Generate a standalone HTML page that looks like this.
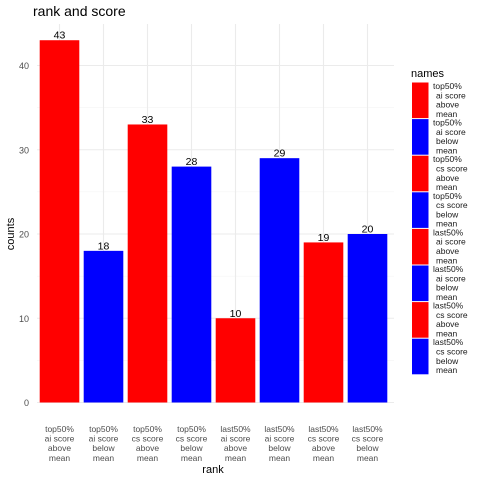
<!DOCTYPE html>
<html><head><meta charset="utf-8"><style>
body{margin:0;background:#fff;font-family:"Liberation Sans",sans-serif}
</style></head><body>
<svg width="480" height="480" id="chart" font-family="Liberation Sans, sans-serif">
<text x="33" y="16" font-size="14" fill="#000">rank and score</text>
<g id="grid"></g><g id="bars"></g><g id="labels"></g><g id="legend"></g>
<text x="213" y="473" font-size="11" text-anchor="middle" fill="#000">rank</text>
<text transform="translate(14,234) rotate(-90)" font-size="11" text-anchor="middle" fill="#000">counts</text>
</svg>
<script>
const categories=[["top50%","ai score","above","mean"],["top50%","ai score","below","mean"],["top50%","cs score","above","mean"],["top50%","cs score","below","mean"],["last50%","ai score","above","mean"],["last50%","ai score","below","mean"],["last50%","cs score","above","mean"],["last50%","cs score","below","mean"]];
const counts=[43,18,33,28,10,29,19,20];
const colors=["#ff0000","#0000ff","#ff0000","#0000ff","#ff0000","#0000ff","#ff0000","#0000ff"];
const yTicks=[0,10,20,30,40];
const NS="http://www.w3.org/2000/svg";
const y=v=>402.5-v*8.425;
const x=i=>59.5+i*44;
const bw=39.6, pl=37, pr=394, pt=24;
function mk(t,a,p){const e=document.createElementNS(NS,t);for(const k in a)e.setAttribute(k,a[k]);p.appendChild(e);return e;}
const g=document.getElementById('grid'),b=document.getElementById('bars'),l=document.getElementById('labels'),lg=document.getElementById('legend');
for(let k=0;k<yTicks.length-1;k++){const m=mk('line',{x1:pl,x2:pr,y1:y(yTicks[k]+5),y2:y(yTicks[k]+5),stroke:'#f2f2f2','stroke-width':0.6},g);

}
yTicks.forEach(t=>{const m=mk('line',{x1:pl,x2:pr,y1:y(t),y2:y(t),stroke:'#ebebeb','stroke-width':1.1},g);


const tx=mk('text',{x:29,y:y(t)+3.5,'font-size':9,'text-anchor':'end',fill:'#4d4d4d'},l);tx.textContent=t;

});
categories.forEach((c,i)=>{const m=mk('line',{x1:x(i),x2:x(i),y1:pt,y2:402.5,stroke:'#ebebeb','stroke-width':1.1},g);


const r=mk('rect',{x:x(i)-bw/2,y:y(counts[i]),width:bw,height:y(0)-y(counts[i]),fill:colors[i]},b);


const v=mk('text',{x:x(i),y:y(counts[i])-1.5,'font-size':10.5,'text-anchor':'middle',fill:'#000'},l);v.textContent=counts[i];


c.forEach((s,j)=>{const t=mk('text',{x:x(i),y:432+j*9.6,'font-size':8.5,'text-anchor':'middle',fill:'#4d4d4d'},l);t.textContent=s;

});
const ky=82+i*36.6;
const k=mk('rect',{x:412,y:ky+0.5,width:16.5,height:35.6,fill:colors[i]},lg);


c.forEach((s,j)=>{const t=mk('text',{x:j==0?433:436,y:ky+7+j*9.3,'font-size':8.5,fill:'#1a1a1a'},lg);t.textContent=s;

});
});
const lt=mk('text',{x:411,y:77,'font-size':11,fill:'#000'},lg);lt.textContent='names';


</script>
</body></html>
